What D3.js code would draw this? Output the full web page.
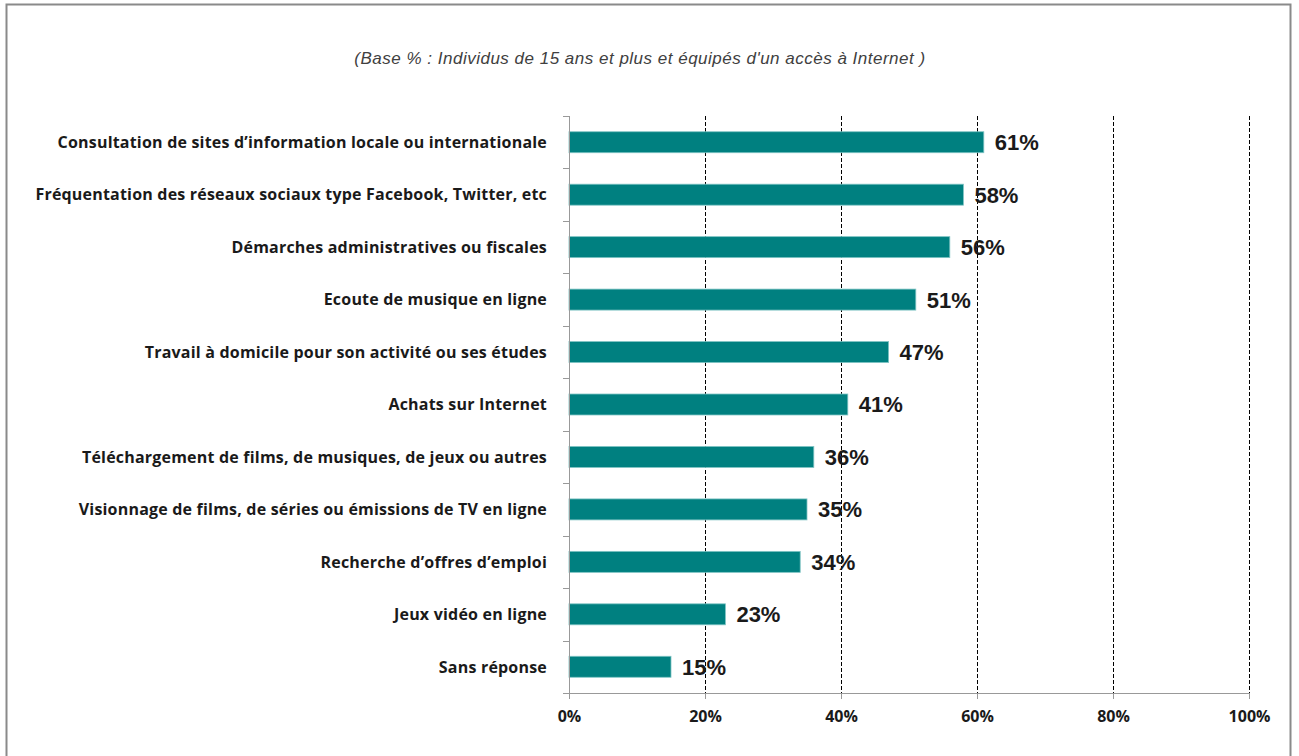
<!DOCTYPE html>
<html>
<head>
<meta charset="utf-8">
<script src="https://cdn.jsdelivr.net/npm/d3@7"></script>
<style>
  body { margin: 0; background: #fff; }
  svg { display: block; }
</style>
</head>
<body>
<div id="chart"></div>
<script>
// Chart data
const categories = [
    "Consultation de sites d\u2019information locale ou internationale",
    "Fréquentation des réseaux sociaux type Facebook, Twitter, etc",
    "Démarches administratives ou fiscales",
    "Ecoute de musique en ligne",
    "Travail à domicile pour son activité ou ses études",
    "Achats sur Internet",
    "Téléchargement de films, de musiques, de jeux ou autres",
    "Visionnage de films, de séries ou émissions de TV en ligne",
    "Recherche d\u2019offres d\u2019emploi",
    "Jeux vidéo en ligne",
    "Sans réponse"
];
const values = [61, 58, 56, 51, 47, 41, 36, 35, 34, 23, 15];
const xTicks = [0, 20, 40, 60, 80, 100];
const subtitle = "(Base % : Individus de 15 ans et plus et équipés d'un accès à Internet )";

const data = categories.map((c, i) => ({ label: c, value: values[i] }));

function drawChart() {
    const width = 1299;
    const height = 756;
    const margin = { top: 116, left: 569 };
    const usableWidth = 1249 - margin.left;
    const usableHeight = 693 - margin.top;

    const svg = d3.select("#chart")
        .append("svg")
        .attr("width", width)
        .attr("height", height);

    // outer frame
    svg.append("rect")
        .attr("x", 6.5)
        .attr("y", 4.5)
        .attr("width", 1284)
        .attr("height", 760)
        .attr("fill", "none")
        .attr("stroke", "#8a8a8a")
        .attr("stroke-width", 2);

    svg.append("text")
        .attr("x", 640)
        .attr("y", 64)
        .attr("text-anchor", "middle")
        .style("font-family", "Liberation Sans, Arial, sans-serif")
        .style("font-style", "italic")
        .style("font-size", "17px")
        .style("letter-spacing", "0.5px")
        .attr("fill", "#404040")
        .text(subtitle);

    const g = svg.append("g")
        .attr("transform", `translate(${margin.left},${margin.top})`);

    const xScale = d3.scaleLinear().domain([0, 100]).range([0, usableWidth]);
    const yScale = d3.scaleBand()
        .domain(categories)
        .range([0, usableHeight])
        .paddingInner(0.6)
        .paddingOuter(0.3);

    // dashed gridlines
    g.append("g")
        .selectAll("line")
        .data(xTicks.filter(d => d > 0))
        .join("line")
        .attr("x1", d => xScale(d) + 0.5)
        .attr("x2", d => xScale(d) + 0.5)
        .attr("y1", 0)
        .attr("y2", usableHeight)
        .attr("stroke", "#000")
        .attr("stroke-width", 1)
        .attr("stroke-dasharray", "4,2");

    // bars
    g.append("g")
        .selectAll("rect")
        .data(data)
        .join("rect")
        .attr("x", 0)
        .attr("y", d => yScale(d.label))
        .attr("width", d => xScale(d.value))
        .attr("height", yScale.bandwidth())
        .attr("fill", "#008080")
        .attr("stroke", "#7fc4c4")
        .attr("stroke-width", 0.8);

    // value labels
    g.append("g")
        .selectAll("text")
        .data(data)
        .join("text")
        .attr("x", d => xScale(d.value) + 11)
        .attr("y", d => yScale(d.label) + yScale.bandwidth() / 2)
        .attr("dy", "0.36em")
        .style("font-family", "Liberation Sans, Arial, sans-serif")
        .style("font-weight", "bold")
        .style("font-size", "22px")
        .attr("fill", "#1a1a1a")
        .text(d => d.value + "%");

    // left axis: tick marks at band boundaries
    const step = yScale.step();
    const bounds = d3.range(categories.length + 1).map(i => i * step);
    g.append("line")
        .attr("x1", 0.5).attr("x2", 0.5)
        .attr("y1", 0).attr("y2", usableHeight)
        .attr("stroke", "#999");
    g.append("g")
        .selectAll("line")
        .data(bounds)
        .join("line")
        .attr("x1", -6).attr("x2", 0)
        .attr("y1", d => Math.round(d) + 0.5)
        .attr("y2", d => Math.round(d) + 0.5)
        .attr("stroke", "#999");

    // category labels
    g.append("g")
        .selectAll("text")
        .data(categories)
        .join("text")
        .attr("x", -22)
        .attr("y", d => yScale(d) + yScale.bandwidth() / 2)
        .attr("dy", "0.36em")
        .attr("text-anchor", "end")
        .style("font-family", "Open Sans, sans-serif")
        .style("font-weight", "bold")
        .style("font-size", "16px")
        .style("letter-spacing", "0.2px")
        .attr("fill", "#1a1a1a")
        .text(d => d);

    // bottom axis
    const xAxis = d3.axisBottom(xScale)
        .tickValues(xTicks)
        .tickFormat(d => d + "%")
        .tickSize(6)
        .tickPadding(12);
    const ax = g.append("g")
        .attr("transform", `translate(0,${usableHeight})`)
        .call(xAxis);
    ax.select(".domain").attr("stroke", "#999");
    ax.selectAll(".tick line").attr("stroke", "#999");
    ax.selectAll("text")
        .style("font-family", "Open Sans, sans-serif")
        .style("font-weight", "bold")
        .style("font-size", "16px")
        .attr("fill", "#1a1a1a");
}

drawChart();
</script>
</body>
</html>
